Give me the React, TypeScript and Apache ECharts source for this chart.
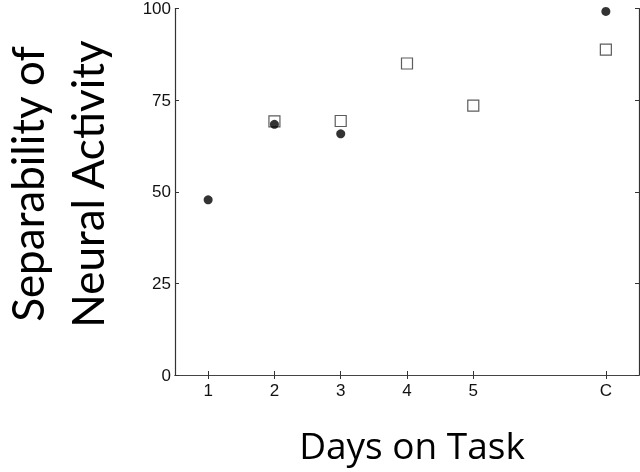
import React, { useEffect, useRef } from "react";
import * as echarts from "echarts";

const days = ["1", "2", "3", "4", "5", "", "C"];
const yTicks = [0, 25, 50, 75, 100];
const circleValues: (number | null)[] = [47.8, 68.4, 65.8, null, null, null, 99.2];
const squareValues: (number | null)[] = [null, 69.2, 69.3, 85.0, 73.5, null, 88.8];
const xTitle = "Days on Task";
const yTitleLines = ["Separability of", "Neural Activity"];

const toPairs = (vals: (number | null)[]) =>
  vals.map((v, i) => (v == null ? null : [i, v])).filter((p) => p !== null);

export default function App() {
  const ref = useRef<HTMLDivElement>(null);
  useEffect(() => {
    if (!ref.current) return;
    const chart = echarts.init(ref.current, null, { renderer: "svg" });
    const tickFn = (_i: number, v: string) => v !== "";
    const baseX = {
      type: "category",
      data: days,
      boundaryGap: true,
      axisLine: { show: true, lineStyle: { color: "#444", width: 1.2 } },
      axisTick: { show: true, inside: true, length: 4, alignWithLabel: true, interval: tickFn, lineStyle: { color: "#333" } },
      splitLine: { show: false },
    };
    const baseY = {
      type: "value",
      min: 0,
      max: 100,
      interval: 25,
      axisLine: { show: true, lineStyle: { color: "#333", width: 1.2 } },
      axisTick: { show: true, inside: true, length: 4, lineStyle: { color: "#333" } },
      splitLine: { show: false },
    };
    chart.setOption({
      animation: false,
      grid: { left: 175, top: 7.5, width: 464, height: 367.5 },
      xAxis: [
        {
          ...baseX,
          position: "bottom",
          axisLabel: { show: true, margin: 7, fontSize: 17, color: "#111", fontFamily: "Liberation Sans, Arial", interval: 0 },
        },
        { ...baseX, position: "top", axisLabel: { show: false } },
      ],
      yAxis: [
        {
          ...baseY,
          position: "left",
          axisLabel: {
            show: true,
            margin: 4,
            fontSize: 17,
            color: "#111",
            fontFamily: "Liberation Sans, Arial",
            formatter: (v: number) => (yTicks.includes(v) ? String(v) : ""),
          },
        },
        { ...baseY, position: "right", axisLabel: { show: false } },
      ],
      series: [
        {
          type: "scatter",
          name: "squares",
          data: toPairs(squareValues),
          symbol: "rect",
          symbolSize: 11,
          itemStyle: { color: "#fff", borderColor: "#333", borderWidth: 1.2 },
          z: 2,
        },
        {
          type: "scatter",
          name: "circles",
          data: toPairs(circleValues),
          symbol: "circle",
          symbolSize: 9,
          itemStyle: { color: "#000" },
          z: 3,
        },
      ],
      graphic: [
        {
          type: "text",
          x: 412,
          y: 444,
          style: { text: xTitle, font: "37px 'Open Sans'", fill: "#000", align: "center", verticalAlign: "middle" },
        },
        {
          type: "text",
          x: 27,
          y: 184,
          rotation: Math.PI / 2,
          style: { text: yTitleLines[0], font: "44px Lato", fill: "#000", align: "center", verticalAlign: "middle" },
        },
        {
          type: "text",
          x: 87,
          y: 184,
          rotation: Math.PI / 2,
          style: { text: yTitleLines[1], font: "44px Lato", fill: "#000", align: "center", verticalAlign: "middle" },
        },
      ],
    });
    return () => chart.dispose();
  }, []);
  return <div ref={ref} style={{ position: "fixed", left: 0, top: 0, width: 640, height: 472 }} />;
}
